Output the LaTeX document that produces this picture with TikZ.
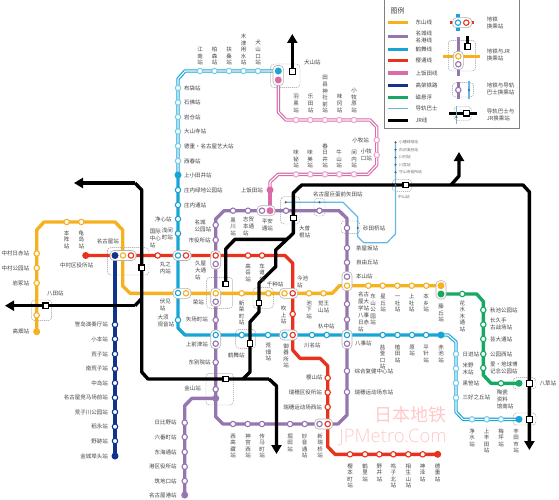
\documentclass[tikz,border=0pt]{standalone}
\usepackage{fontspec}
\setmainfont{Noto Sans CJK SC}
\newfontfamily\wmfont{Open Sans Light}
\usetikzlibrary{arrows.meta}
\definecolor{yel}{HTML}{F6B120}
\definecolor{pur}{HTML}{9576AE}
\definecolor{cya}{HTML}{18A5D6}
\definecolor{lcy}{HTML}{7CCDE8}
\definecolor{red1}{HTML}{E8321E}
\definecolor{pnk}{HTML}{D96BA9}
\definecolor{lpi}{HTML}{EFA6CF}
\definecolor{blu}{HTML}{12338C}
\definecolor{gre}{HTML}{17A863}
\definecolor{gui}{HTML}{66B7E6}
\definecolor{txt}{HTML}{444444}
\definecolor{wm}{HTML}{FFC9C9}
\makeatletter
\def\vtgo#1{\ifx#1\relax\else\hbox to 6pt{\hss\vrule height 5.3pt depth 1.3pt width 0pt #1\hss}\expandafter\vtgo\fi}
\newcommand\vt[1]{\vbox{\offinterlineskip\expandafter\vtgo#1\relax}}
\makeatother
\tikzset{
 lab/.style={font=\fontsize{5.5}{7}\selectfont,text=txt,inner sep=0pt,align=left},
 labc/.style={lab,align=center},
 tiny/.style={font=\fontsize{3.8}{5}\selectfont,text=txt!80,inner sep=0pt,anchor=west},
 rail/.style={line width=3.4pt,line join=round},
 dbl/.style={line width=1.15pt,double=white,double distance=1.1pt,line join=round},
 ring/.style={circle,inner sep=0pt,minimum size=5.4pt,line width=1.1pt,fill=white,draw=#1},
 full/.style={circle,inner sep=0pt,minimum size=7pt,fill=#1},
 jrbox/.style={rectangle,inner sep=0pt,minimum size=5.6pt,line width=1.2pt,draw=black,fill=white},
 gdot/.style={circle,inner sep=0pt,minimum size=2.4pt,fill=gray!70!black},
 dbox/.style={draw=gray!80,dashed,dash pattern=on 1.2pt off .8pt,line width=.45pt,rounded corners=3.5pt},
 pill/.style={draw=gray!60,fill=white,line width=.6pt,rounded corners=4pt},
 jrarrow/.style={-{Triangle[width=10pt,length=9pt]}},
}
\begin{document}
\begin{tikzpicture}[x=1pt,y=-1pt]
\useasboundingbox (0,0) rectangle (559,500);
\fill[white] (0,0) rectangle (559,500);
% coordinates of stations
\foreach \n/\x/\y in {
 konan/200/71,kashi/214.5/71,fuso/229/71,kizu/243.5/71,inuguchi/258/71,inuC/278.3/71,inuP/278.3/80,inuJ/292.3/71.7,
 hotei/178/88,ishibot/178/102.5,iwakura/178/117,taisan/178/131.5,toku/178/146,nishiharu/178/161,
 kamiotai/178/175,shonaiR/178/190,shonaiD/178/205,joshin/178/219,sengen/178/233.5,maruC/178/255.5,fushimiC/178/293,osu/178/320,
 kamimaeC/215.7/335,tsuru/241.7/335,arahata/268/335,gokisoC/284.5/335,kawana/312/335,irinaka/326.7/335,yagotoC/347/335,
 shiogama/382.7/335,ueda/397.5/335,hara/412/335,hirabari/426/335,akaike/441/335,
 nisshin/456/354,komenoki/456/368.5,kurozasa/456/383,miyoshi/456/397.7,
 josui/472/419.3,kamitoyo/486.7/419.3,umetsubo/501/419.3,toyotashi/519/419.3,
 nakaend/85.7/255.5,nagoyaB/115/255.5,nagoyaY/123/255.5,nagoyaR/131/255.5,kokusai/157.7/255.5,maruR/186/255.5,
 hisaR/215.7/255.5,takaoka/248/255.5,kurumamichi/262/255.5,imaikeR/292.7/293.3,fukiage/292.7/314,gokisoR/292.7/335,
 sakurayama/327.7/378,mizuhoK/327.7/392.5,mizuhoU/327.7/407,aratamaR/327.7/424,
 sakuramoto/350/454.3,tsurusato/365/454.3,nonami/379.3/454.3,narukoK/393.3/454.3,aioi/408.3/454.3,kamisawa/422.7/454.3,tokushige/437.7/454.3,
 takabata/36.7/331.7,hatta/36.7/315.3,iwatsuka/36.7/283,nakakoen/36.7/268,nakanisseki/36.7/253.5,honjin/66.7/222,kameji/81.3/222,
 fushimiY/186/293.3,sakaeY/215.7/293.3,shinsakae/241.7/293.3,chikusa/268.5/293.3,imaikeY/284.5/293.3,ikeshita/309/293.3,kakuozan/323.5/293.3,
 motoyamaY/347/285.7,higashiyama/368.3/285.7,hoshigaoka/382.7/285.7,issha/397.3/285.7,kamiyashiro/411.7/285.7,hongo/426.3/285.7,fujigaokaY/441/285.7,
 fujigaokaG/441/294,hanamizuki/462.3/294,ikeda/483.3/310,nagakute/483.3/324.5,geidai/483.3/339,koenNishi/483.3/354,banpaku/483.3/368,toujiki/501/383.3,yakusa/519/383.3,
 sasashima/115/324.7,komoto/115/339,arako/115/354,minamiarako/115/368.7,nakajima/115/383,keiba/115/397.7,arakogawa/115/412,inaei/115/426.7,nozeki/115/441,kinjo/115/456,
 meijo/215.7/225,shiyaku/215.7/240,hisaP/215.7/264,sakaeP/215.7/301.7,yabacho/215.7/320,kamimaeP/215.7/343.7,higashibetsu/215.7/362.3,kanayamaP/215.7/389.3,kanayamaM/215.7/398.3,
 kurokawa/233/210.7,shiga/248/210.7,heianP/262/210.7,heianK/270/210.7,ozone/286/210.7,yada/319.5/210.7,
 sunada/347/228,chaya/347/248,jiyu/347/262.5,motoyamaP/347/276.7,meidai/347/304,nisseki/347/319.5,yagotoP/347/343.7,sogo/347/371,mizuhoE/347/392,
 aratamaP/319.5/424,myoon/304.7/424,horita/290/424,tenma/262/424,jingu/247.7/424,nishitaka/233/424,
 hibino/184.7/422.7,rokuban/184.7/437,tokai/184.7/452,minatoku/184.7/466.7,tsukiji/184.7/481,nagoyako/184.7/495,
 kamiiida/270/190,
 ajiyoshi/296/174.3,ajima/310.3/174.3,kasugai/325/174.3,ushiyama/339.3/174.3,mamuchi/354/174.3,komakiguchi/376.7/155,komaki/376.7/140,komakihara/354/120,ajioka/339.3/120,tagata/325/120,gakuden/310.3/120,haguro/296/120,
 nagoyaJ/141.7/267.7,hattaJ/45.7/305.7,ozoneJ/293.3/218,chikusaJ/259/303,tsuruJ/250/343.3,kanaJ/225.7/379,hisaJ/225.7/284,nakayamaJ/405.7/185,yakusaJ/529.4/383.3,toyotaJ/529.4/419.3,
 gOzone/285.7/202.3,gYada/319.5/202.3,gSunada/357.7/228,gNaka/395.5/185,gMori/395.5/172.3,gKawamiya/395.5/164.7,gKawamura/395.5/157.5,gShira/395.5/149.7,gObata/395.5/142.3}
 {\coordinate (\n) at (\x,\y);}
% bends
\foreach \n/\x/\y in {
 cUp1/178/79,cUp2/185/71,cLo1/178/328,cLo2/185/335,cR1/448/335,cR2/456/342,cR3/456/412,cR4/463/419.3,
 rA/285/255.5,rB/292.7/263.3,rC/292.7/350,rD/300/358.3,rE/320/358.3,rF/327.7/366,rG/327.7/446.7,rH/335/454.3,
 yA/36.7/230,yB/44/222,yC/115/222,yD/122.7/230,yE/122.7/286,yF/130/293.3,yG/332.3/293.3,yH/339.5/285.7,
 gA/476.7/294,gB/483.3/301.5,gC/483.3/375,gD/491/383.3,
 pA/215.7/219,pB/224/210.7,pC/339/210.7,pD/347/218.5,pE/347/415,pF/338/424,pG/223/424,pH/215.7/416.7,
 mA/192/398.3,mB/184.7/405.7,
 kA/270/182,kB/278.3/174.3,kC/368/174.3,kD/376.7/165,kE/376.7/127,kF/370/120,kG/286/120,kH/278.3/112,
 uA/343/202.3,uB/357.7/217,uC/357.7/236.7,uD/363.7/242.7,uE/387/242.7,uF/395.5/234,
 jT1/74/183,jT2/135/183,jT3/141.7/190,jT4/141.7/372,jT5/148/379,jT6/269/379,jT7/276.5/386,jT8/276.5/454,
 jW1/5/305.7,jW2/135/305.7,jW3/141.7/298.5,
 jC1/243/379,jC2/250/372,jC3/250/322,jC4/259/312,jC5/259/283,jC6/275.7/266.7,jC7/275.7/250,jC8/293.3/233.3,jC9/293.3/193,jC10/301.7/185,jC11/523/185,jC12/529.4/192,jC13/529.4/450,
 jH1/286.7/239.3,jH2/235/239.3,jH3/225.7/249,
 jN1/451/185,jN2/459/176,jN3/459/152,jI/292.3/34}
 {\coordinate (\n) at (\x,\y);}
% watermark
\node[font=\fontsize{18}{18}\selectfont,text=wm,inner sep=0pt,anchor=east] (wm1) at (447,415) {日本地铁};
\node[font=\wmfont\fontsize{18.5}{20}\selectfont,text=wm,inner sep=0pt,anchor=east] (wm2) at (447,437.5) {JPMetro.Com};
% dashed interchange frames
\foreach \a/\b/\c/\d in {270.7/64/300/87.7,107.3/247.7/149/275,31.3/300/51.7/320.7,206.7/277.3/232.7/308.3,253/287.7/273.3/308.3,280.7/196.7/300/224,314/198.3/325/216,341/221/360/233.3,235.7/329.3/255.7/348.3,206/373.3/233.3/405,513/377.7/536/389,513/413/536/425,392.3/179.3/411.7/191.7}
 {\draw[dbox] (\a,\b) rectangle (\c,\d);}
% lines
\draw[gui,line width=1.2pt,line join=round] (gOzone) -- (gYada) -- (uA) -- (uB) -- (gSunada) -- (uC) -- (uD) -- (uE) -- (uF) -- (gNaka) -- (gObata);
\draw[cya,rail] (kamiotai) -- (cLo1) -- (cLo2) -- (akaike);
\draw[cya,dbl] (kamiotai) -- (cUp1) -- (cUp2) -- (inuC);
\draw[cya,dbl] (akaike) -- (cR1) -- (cR2) -- (cR3) -- (cR4) -- (toyotashi);
\draw[pur,rail] (pA) -- (pB) -- (pC) -- (pD) -- (pE) -- (pF) -- (pG) -- (pH) -- cycle;
\draw[pur,rail] (kanayamaM) -- (mA) -- (mB) -- (nagoyako);
\draw[yel,rail] (takabata) -- (yA) -- (yB) -- (yC) -- (yD) -- (yE) -- (yF) -- (yG) -- (yH) -- (fujigaokaY);
\draw[blu,rail] (nagoyaB) -- (kinjo);
\draw[gre,rail] (fujigaokaG) -- (gA) -- (gB) -- (gC) -- (gD) -- (yakusa);
\draw[red1,rail] (nakaend) -- (rA) -- (rB) -- (rC) -- (rD) -- (rE) -- (rF) -- (rG) -- (rH) -- (tokushige);
\draw[pnk,rail] (kamiiida) -- (heianK);
\draw[pnk,dbl] (kamiiida) -- (kA) -- (kB) -- (kC) -- (kD) -- (kE) -- (kF) -- (kG) -- (kH) -- (inuP);
% JR
\draw[black,rail,jrarrow] (jT6) -- (jT7) -- (jT8);
\draw[black,rail] (jT2) -- (jT3) -- (jT4) -- (jT5) -- (jT6);
\draw[black,rail,jrarrow] (jT2) -- (jT1);
\draw[black,rail,jrarrow] (jW2) -- (jW1);
\draw[black,rail] (jW2) -- (jW3);
\draw[black,rail,jrarrow] (jC1) -- (jC2) -- (jC3) -- (jC4) -- (jC5) -- (jC6) -- (jC7) -- (jC8) -- (jC9) -- (jC10) -- (jC11) -- (jC12) -- (jC13);
\draw[black,rail] (jH1) -- (jH2) -- (jH3) -- (hisaJ);
\draw[black,rail,jrarrow] (jN1) -- (jN2) -- (jN3);
\draw[black,rail,jrarrow] (inuJ) -- (jI);
% interchange pills
\foreach \a/\b/\c/\d in {273/65.5/283.6/85.5,110/250.5/136/260.5,173/250.5/191/260.5,173/288.3/191/298.3,210.7/250.5/220.7/269,210.7/288.3/220.7/306.7,210.7/330/220.7/348.7,279.5/288.3/297.7/298.3,279.5/330/297.7/340,257/205.7/275/215.7,314.5/419/332.7/429,342/271.7/352/290.7,342/330/352/348.7,436/280.7/446/299}
 {\draw[pill] (\a,\b) rectangle (\c,\d);}
% stations
\foreach \n in {konan,kashi,fuso,kizu,inuguchi,hotei,ishibot,iwakura,taisan,toku,nishiharu,nisshin,komenoki,kurozasa,miyoshi,josui,kamitoyo,umetsubo}
 {\node[ring=lcy] (\n) at (\n) {};}
\foreach \n in {shonaiR,shonaiD,joshin,sengen,maruC,fushimiC,osu,kamimaeC,tsuru,arahata,gokisoC,kawana,irinaka,yagotoC,shiogama,ueda,hara,hirabari}
 {\node[ring=cya] (\n) at (\n) {};}
\foreach \n in {kamiotai,inuC,akaike,toyotashi} {\node[full=cya] (\n) at (\n) {};}
\foreach \n in {nagoyaR,kokusai,maruR,hisaR,takaoka,kurumamichi,imaikeR,fukiage,gokisoR,sakurayama,mizuhoK,mizuhoU,aratamaR,sakuramoto,tsurusato,nonami,narukoK,aioi,kamisawa}
 {\node[ring=red1] (\n) at (\n) {};}
\foreach \n in {nakaend,tokushige} {\node[full=red1] (\n) at (\n) {};}
\foreach \n in {hatta,iwatsuka,nakakoen,nakanisseki,honjin,kameji,nagoyaY,fushimiY,sakaeY,shinsakae,chikusa,imaikeY,ikeshita,kakuozan,motoyamaY,higashiyama,hoshigaoka,issha,kamiyashiro,hongo}
 {\node[ring=yel] (\n) at (\n) {};}
\foreach \n in {takabata,fujigaokaY} {\node[full=yel] (\n) at (\n) {};}
\foreach \n in {hanamizuki,ikeda,nagakute,geidai,koenNishi,banpaku,toujiki} {\node[ring=gre] (\n) at (\n) {};}
\foreach \n in {fujigaokaG,yakusa} {\node[full=gre] (\n) at (\n) {};}
\foreach \n in {sasashima,komoto,arako,minamiarako,nakajima,keiba,arakogawa,inaei,nozeki} {\node[ring=blu] (\n) at (\n) {};}
\foreach \n in {nagoyaB,kinjo} {\node[full=blu] (\n) at (\n) {};}
\foreach \n in {meijo,shiyaku,hisaP,sakaeP,yabacho,kamimaeP,higashibetsu,kanayamaP,kurokawa,shiga,heianP,ozone,yada,sunada,chaya,jiyu,motoyamaP,meidai,nisseki,yagotoP,sogo,mizuhoE,aratamaP,myoon,horita,tenma,jingu,nishitaka,hibino,rokuban,tokai,minatoku,tsukiji}
 {\node[ring=pur] (\n) at (\n) {};}
\foreach \n in {kanayamaM,nagoyako} {\node[full=pur] (\n) at (\n) {};}
\foreach \n in {ajiyoshi,ajima,kasugai,ushiyama,mamuchi,komakiguchi,komaki,komakihara,ajioka,tagata,gakuden,haguro} {\node[ring=lpi] (\n) at (\n) {};}
\foreach \n in {kamiiida,heianK,inuP} {\node[full=pnk] (\n) at (\n) {};}
\foreach \n in {inuJ,nagoyaJ,hattaJ,ozoneJ,chikusaJ,tsuruJ,kanaJ,hisaJ,nakayamaJ,yakusaJ,toyotaJ} {\node[jrbox] (\n) at (\n) {};}
\foreach \n in {gOzone,gYada,gSunada,gNaka,gMori,gKawamiya,gKawamura,gShira,gObata} {\node[gdot] (\n) at (\n) {};}
% vertical labels, given by top
\foreach \x/\y/\t in {
 200/46/江南站,214.5/46/柏森站,229/46/扶桑站,243.5/33/木津用水站,258/39.5/犬山口站,
 296/93.5/羽黑站,310.5/93.5/乐田站,325/74.5/田县神社前站,339.5/93.5/味冈站,354/87/小牧原站,
 296/149/味铋站,310/149/味美站,325/142.5/春日井站,339/149/牛山站,354/149/间内站,
 66.7/229.5/本阵站,81.3/229.5/龟岛站,
 233/216.5/黑川站,248/262.5/高岳站,262/262.5/车道站,241.7/299.5/新荣町站,309/299.5/池下站,283.5/305/吹上站,
 268.3/342/荒畑站,286/342.5/御器所站,
 233/432.5/西高藏站,248/432.5/神宫西站,262/432.5/传马町站,290/432.5/堀田站,304.7/432.5/妙音通站,320/432.5/新瑞桥站,
 350/462.5/樱本町站,365/462.5/鹤里站,379.3/462.5/野并站,393.3/462.5/鸣子北站,408.3/462.5/相生山站,422.7/462.5/神泽站,437.7/462.5/德重站,
 373/293/东山公园站,383/293/星丘站,397.5/293/一社站,411.7/293/上社站,426/293/本乡站,441/303/藤丘站,462.3/299.5/花水木通站,
 382.7/343.5/盐釜口站,397.5/343.5/植田站,412/343.5/原站,426/343.5/平针站,441/343.5/赤池站,
 472/427.5/净水站,486.7/427.5/上丰田站,501/427.5/梅坪站,516/427.5/丰田市站}
 {\node[lab,anchor=north] (V\x-\y) at (\x,\y) {\vt{\t}};}
% labels to the right of their point
\foreach \x/\y/\t in {
 184/88/布袋站,184/102.5/石佛站,184/117/岩仓站,184/131.5/大山寺站,184/146/德重・名古屋艺大站,184/161/西春站,184/175/上小田井站,184/190/庄内绿地公园站,184/205/庄内通站,
 304/62.3/犬山站,96.7/241/名古屋站,60/265.7/中村区役所站,47/293.3/八田站,
 194.5/225.5/{名城\\公园站},195/270/{久屋\\大通\\站},192.7/302/荣站,185.7/319.7/矢场町站,185.7/344/上前津站,
 157.3/320.7/{大须\\观音站},299/231.5/{大曾\\根站},313/194/名古屋巨蛋前矢田站,363/228/砂田桥站,
 356/248/茶屋坂站,356/262.7/自由丘站,356/276.7/本山站,355/343.7/八事站,354.5/371/综合复健中心站,354.5/392/瑞穗运动场东站,
 266.7/284/千种站,297/281.5/{今池\\站},318/326/杁中站,228/355.3/鹤舞站,304/345/川名站,306/377.7/樱山站,
 462.5/354/日进站,462.5/368.5/{米野\\木站},462.5/383/黑笹站,462.5/397.7/三好之丘站,
 490/310/秋池公园站,490/324/{长久手\\古战场站},490/339.3/芸大通站,490/354/公园西站,490/368/{爱・地球博\\记念公园站},
 496.7/399/{陶瓷\\资料\\馆南站},539.3/383.3/八草站,
 318/307/{觉王\\山站},261.7/225/{平安\\通站},243/226.5/{志贺\\本通\\站},358/301/{名古\\屋大\\学站},358/322/{八事\\日赤\\站}}
 {\node[lab,anchor=west] (R\x-\y) at (\x,\y) {\t};}
% labels to the left of their point
\foreach \x/\y/\t in {
 29.3/253.5/中村日赤站,29.3/268/中村公园站,29.3/283/岩冢站,29.3/331.7/高畑站,
 171.7/219/净心站,173/233.5/{浅间\\町站},161/238.5/{国际\\中心\\站},171/268/{丸之\\内站},171/305/{伏见\\站},
 108/324.7/笹岛演奏厅站,108/339/小本站,108/354/荒子站,108/368.7/南荒子站,108/383/中岛站,108/397.7/名古屋竞马场前站,108/412/荒子川公园站,108/426.7/稻永站,108/441/野跡站,108/456/金城埠头站,
 176.7/422.7/日比野站,176.7/437/六番町站,176.7/452/东海通站,176.7/466.7/港区役所站,176.7/481/筑地口站,176.7/495/名古屋港站,
 201/388/金山站,210.7/240/市役所站,210.7/362.3/东别院站,263/190/上饭田站,
 369/140/小牧站,372/154.5/{小牧\\口站},322/392.3/瑞穗区役所站,322/407/瑞穗运动场西站}
 {\node[lab,anchor=east] (L\x-\y) at (\x,\y) {\t};}
% guideway small labels
\node[tiny] (t1) at (399,142.3) {小幡绿地站};
\node[tiny] (t2) at (399,149.7) {白沢溪谷站};
\node[tiny] (t3) at (399,157.5) {川村站};
\node[tiny] (t4) at (399,164.7) {川宫站};
\node[tiny] (t5) at (399,172.3) {守山市役所站};
\node[tiny] (t6) at (398,196.7) {中山站};
% legend
\draw[gray,line width=.9pt] (384,-1) rectangle (519.5,128.3);
\node[lab,anchor=west,font=\fontsize{7}{8}\selectfont] (lgT) at (390.5,11) {图例};
\foreach \c/\y/\t in {yel/22.7/东山线,pur/36.7/{名城线\\名港线},cya/49.7/鹤舞线,red1/60.3/樱通线,pnk/73/上饭田线,blu/85.7/高架铁路,gre/97.3/磁悬浮,black/120.3/JR线}
 {\draw[\c,line width=3.4pt] (388.3,\y) -- (407.7,\y);
  \node[lab,anchor=west] (lg\y) at (415.3,\y) {\t};}
\draw[gui,line width=1.2pt] (388.3,108.3) -- (407.7,108.3);
\node[lab,anchor=west] (lgG) at (415.3,108.3) {导轨巴士};
% legend icons
\draw[cya,rail] (458,14.3) -- (458,31);
\draw[red1,rail] (449.7,22.7) -- (474.3,22.7);
\draw[pill] (452.5,17.7) rectangle (471.8,27.7);
\node[ring=cya] (i1a) at (458,22.7) {};
\node[ring=red1] (i1b) at (466.3,22.7) {};
\node[lab,anchor=west] (i1t) at (486.7,22.7) {地铁\\换乘站};
\draw[dbox] (448.3,40.3) rectangle (475.7,71);
\draw[pur,rail] (458.3,37) -- (458.3,76);
\draw[yel,rail] (443.3,56.3) -- (480,56.3);
\draw[black,rail] (467.7,36.5) -- (467.7,46.7);
\draw[pill] (453.3,51.3) rectangle (463.3,69.5);
\node[ring=yel] (i2a) at (458.3,56.3) {};
\node[ring=pur] (i2b) at (458.3,64.3) {};
\node[jrbox] (i2c) at (467.7,46.7) {};
\node[lab,anchor=west] (i2t) at (486.7,55.3) {地铁与JR\\换乘站};
\draw[dbox] (452.3,82.7) rectangle (473.7,97);
\draw[pur,rail] (458.3,81.7) -- (458.3,99);
\draw[gui,line width=1.2pt] (469,81) -- (469,99);
\node[ring=pur] (i3a) at (458.3,90) {};
\node[gdot] (i3b) at (469,90) {};
\node[lab,anchor=west] (i3t) at (486.7,88.7) {地铁与导轨\\巴士换乘站};
\draw[dbox] (454,106.5) rectangle (471.5,120.5);
\draw[black,rail] (449.3,113.3) -- (476.7,113.3);
\draw[gui,line width=1.2pt] (456.3,106) -- (456.3,124);
\node[gdot] (i4a) at (456.3,117) {};
\node[jrbox] (i4b) at (466.3,113.3) {};
\node[lab,anchor=west] (i4t) at (486.7,114.7) {导轨巴士与\\JR换乘站};
\end{tikzpicture}
\end{document}
